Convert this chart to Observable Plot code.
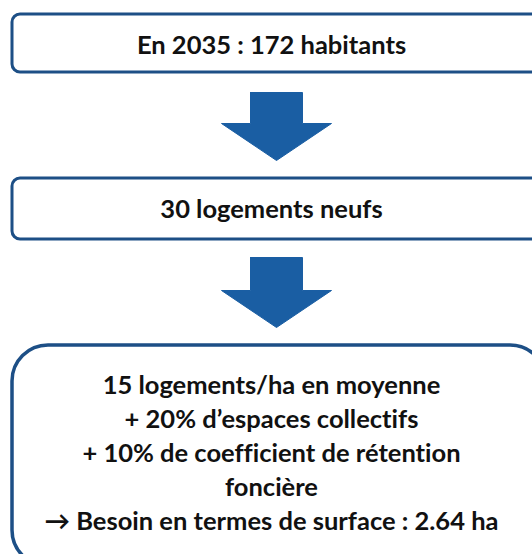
<!DOCTYPE html>
<html>
<head>
<meta charset="utf-8">
<script src="https://cdn.jsdelivr.net/npm/d3@7"></script>
<script src="https://cdn.jsdelivr.net/npm/@observablehq/plot@0.6"></script>
<style>
  html, body { margin: 0; padding: 0; background: #fff; overflow: hidden; }
  svg text { font-variant-ligatures: none; font-feature-settings: "liga" 0, "clig" 0; }
</style>
</head>
<body>
<div id="chart"></div>
<script>
// Flow steps (text content)
const step1 = ["En 2035 : 172 habitants"];
const step2 = ["30 logements neufs"];
const step3 = [
  "15 logements/ha en moyenne",
  "+ 20% d\u2019espaces collectifs",
  "+ 10% de coefficient de r\u00e9tention",
  "fonci\u00e8re",
  "\u2192 Besoin en termes de surface : 2.64 ha"
];

// Layout of boxes (pixel-space scale)
const boxTop = [14, 178, 345];
const boxBottom = [72, 239, 566];
const boxRadius = [8, 8, 36];
const boxStroke = [3, 3, 3.5];
const boxLeft = 12;
const boxRight = 546;
const textTop = [45, 209, 385];
const lineStep = 34;
const fontSize = 25.5;

// Arrows (center x, shaft top, head start, tip)
const arrowCx = 276;
const arrowShaftTop = [92, 257];
const arrowHeadTop = [123, 290];
const arrowTip = [160, 327];
const shaftHalf = 26;
const headHalf = 55;

const boxes = boxTop.map((t, i) => ({y1: t, y2: boxBottom[i], r: boxRadius[i], sw: boxStroke[i]}));
const texts = [];
[step1, step2, step3].forEach((lines, i) => {
  lines.forEach((s, j) => texts.push({text: s, y: textTop[i] + j * lineStep}));
});
const arrows = [];
arrowShaftTop.forEach((t, i) => {
  const h = arrowHeadTop[i], tip = arrowTip[i];
  [[arrowCx - shaftHalf, t], [arrowCx + shaftHalf, t], [arrowCx + shaftHalf, h],
   [arrowCx + headHalf, h], [arrowCx, tip], [arrowCx - headHalf, h],
   [arrowCx - shaftHalf, h], [arrowCx - shaftHalf, t]]
    .forEach(([x, y]) => arrows.push({id: i, x, y}));
});

const marks = [];
boxes.forEach(b => {
  marks.push(Plot.rect([b], {x1: boxLeft, x2: boxRight, y1: "y1", y2: "y2",
    rx: b.r, fill: "white", stroke: "#1d4f86", strokeWidth: b.sw}));
});
marks.push(Plot.line(arrows, {x: "x", y: "y", z: "id", fill: "#1a5ea3", stroke: "#1a5ea3", strokeWidth: 1}));
marks.push(Plot.text(texts, {
  x: 271, y: "y", text: "text", fontSize, fontWeight: "bold",
  fill: "#111111", textAnchor: "middle", lineAnchor: "middle",
  fontFamily: "Lato"
}));

const chart = Plot.plot({
  width: 532,
  height: 554,
  margin: 0,
  x: {domain: [0, 532], range: [0, 532], axis: null},
  y: {domain: [0, 554], range: [0, 554], axis: null},
  style: {fontFamily: "Lato", background: "white", overflow: "hidden"},
  marks
});
document.getElementById("chart").appendChild(chart);
</script>
</body>
</html>
